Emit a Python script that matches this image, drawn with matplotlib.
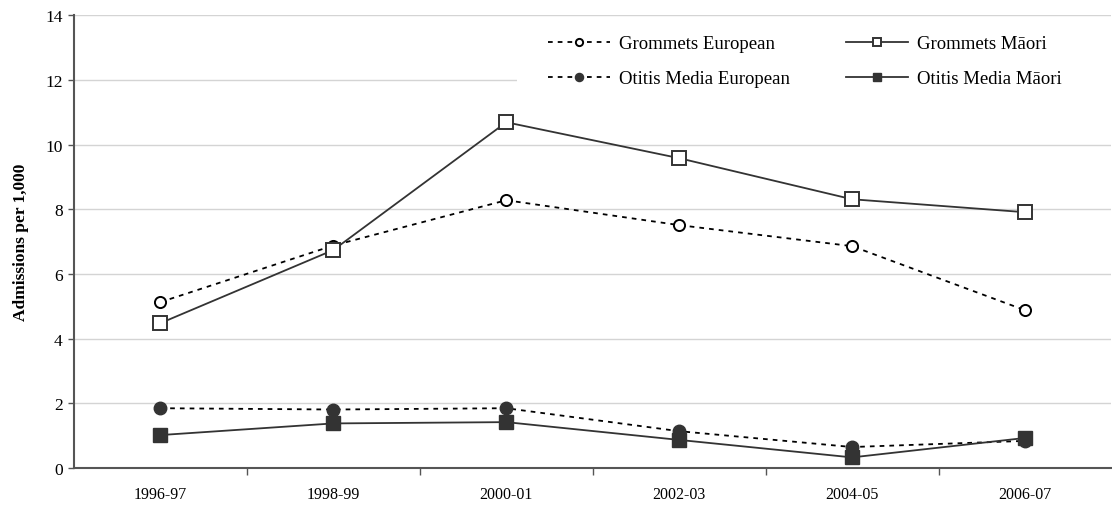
import matplotlib
matplotlib.use("Agg")
import matplotlib.pyplot as plt
import matplotlib.transforms as mtransforms
from matplotlib.patches import Rectangle
import numpy as np

# Dane (hospitalizacje na 1000).
years = ["1996-97", "1998-99", "2000-01", "2002-03", "2004-05", "2006-07"]
grommets_european = [5.13, 6.88, 8.28, 7.51, 6.86, 4.88]
grommets_maori = [4.48, 6.74, 10.69, 9.58, 8.31, 7.91]
otitis_european = [1.85, 1.81, 1.85, 1.14, 0.65, 0.84]
otitis_maori = [1.02, 1.38, 1.42, 0.87, 0.33, 0.93]

plt.rcParams["font.family"] = ["Liberation Serif", "DejaVu Serif"]

DARK = "#333333"
DOT = (0, (2.6, 2.8))

fig = plt.figure(figsize=(11.12, 5.06), dpi=100)
ax = fig.add_axes([0.0665, 0.073, 0.933, 0.895])

x = np.arange(len(years))

h_ge, = ax.plot(x, grommets_european, linestyle=DOT, color="black", lw=1.3,
                marker="o", ms=8, mfc="white", mec="black", mew=1.4,
                label="Grommets European")
h_gm, = ax.plot(x, grommets_maori, linestyle="-", color=DARK, lw=1.3,
                marker="s", ms=9.5, mfc="white", mec=DARK, mew=1.4,
                label="Grommets Māori")
h_oe, = ax.plot(x, otitis_european, linestyle=DOT, color="black", lw=1.3,
                marker="o", ms=9, mfc=DARK, mec=DARK,
                label="Otitis Media European")
h_om, = ax.plot(x, otitis_maori, linestyle="-", color=DARK, lw=1.3,
                marker="s", ms=9.5, mfc=DARK, mec=DARK,
                label="Otitis Media Māori")

ax.set_xlim(-0.5, len(years) - 0.5)
ax.set_ylim(0, 14)
ax.set_yticks(np.arange(0, 15, 2))
ax.set_xticks(x)
ax.set_xticklabels(years)
ax.set_xticks(np.arange(0.5, len(years) - 0.5, 1), minor=True)
ax.tick_params(axis="x", which="major", length=0, pad=13, labelsize=11.5)
ax.tick_params(axis="x", which="minor", length=5, width=1, color="#555555")
ax.tick_params(axis="y", length=4, width=1, color="#555555", labelsize=12.5, pad=4)

ax.grid(axis="y", color="#d4d4d4", lw=1)
ax.set_axisbelow(True)
for side in ("top", "right"):
    ax.spines[side].set_visible(False)
for side in ("left", "bottom"):
    ax.spines[side].set_color("#555555")
    ax.spines[side].set_linewidth(1.5)

ax.set_ylabel("Admissions per 1,000", fontweight="bold", fontsize=12.5, labelpad=12)

# Białe tło pod legendą zasłania linię siatki na 12.
trans = mtransforms.blended_transform_factory(ax.transAxes, ax.transData)
ax.add_patch(Rectangle((0.4268, 11.0), 0.6, 2.5, transform=trans,
                       facecolor="white", edgecolor="none", zorder=1))

common = dict(frameon=False, fontsize=13.5, handlelength=3.3, handletextpad=0.5,
              labelspacing=0.96, borderpad=0, borderaxespad=0, markerscale=0.65,
              loc="upper left", bbox_transform=fig.transFigure)
leg1 = ax.legend(handles=[h_ge, h_oe], bbox_to_anchor=(548 / 1112, 1 - 36 / 506), **common)
ax.add_artist(leg1)
ax.legend(handles=[h_gm, h_om], bbox_to_anchor=(846 / 1112, 1 - 36 / 506), **common)

fig.savefig("out.png", dpi=100)
plt.close(fig)
